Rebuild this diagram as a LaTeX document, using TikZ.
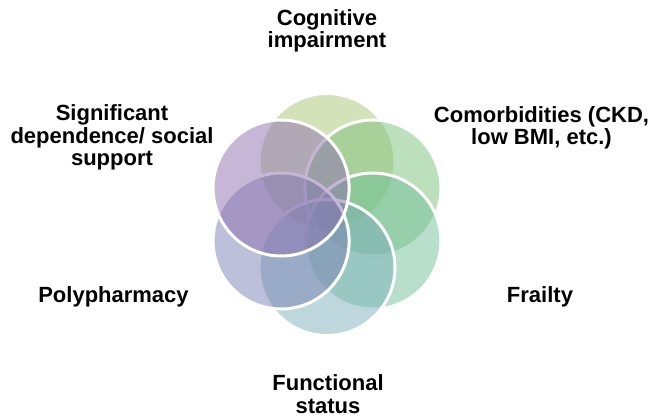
\documentclass[tikz,border=0pt]{standalone}
\usepackage{fontspec}
\setmainfont{Liberation Sans}
\definecolor{cogn}{HTML}{A9C573}
\definecolor{comorb}{HTML}{7BC179}
\definecolor{frail}{HTML}{71BF97}
\definecolor{func}{HTML}{7BAFB9}
\definecolor{poly}{HTML}{7981B5}
\definecolor{dep}{HTML}{8D6FAF}
\begin{document}
\begin{tikzpicture}[x=1pt, y=1pt,
    lbl/.style={font=\fontsize{22}{22.5}\selectfont\bfseries, align=center, anchor=base, inner sep=0pt}]
  \useasboundingbox (0,0) rectangle (653,-419);
  \foreach \a/\c in {90/cogn, 30/comorb, -30/frail, -90/func, -150/poly, 150/dep}
    \draw[white, line width=3pt, fill=\c, fill opacity=.5] (327,-214.5) ++(\a:53) circle[radius=68];
  \node[lbl] (cog) at (327,-48) {Cognitive\\impairment};
  \node[lbl] (comorb) at (541.5,-145) {Comorbidities (CKD,\\low BMI, etc.)};
  \node[lbl] (frail) at (540,-303) {Frailty};
  \node[lbl] (func) at (328,-413) {Functional\\status};
  \node[lbl] (poly) at (113.5,-303) {Polypharmacy};
  \node[lbl] (dep) at (112,-166) {Significant\\dependence/ social\\support};
\end{tikzpicture}
\end{document}
